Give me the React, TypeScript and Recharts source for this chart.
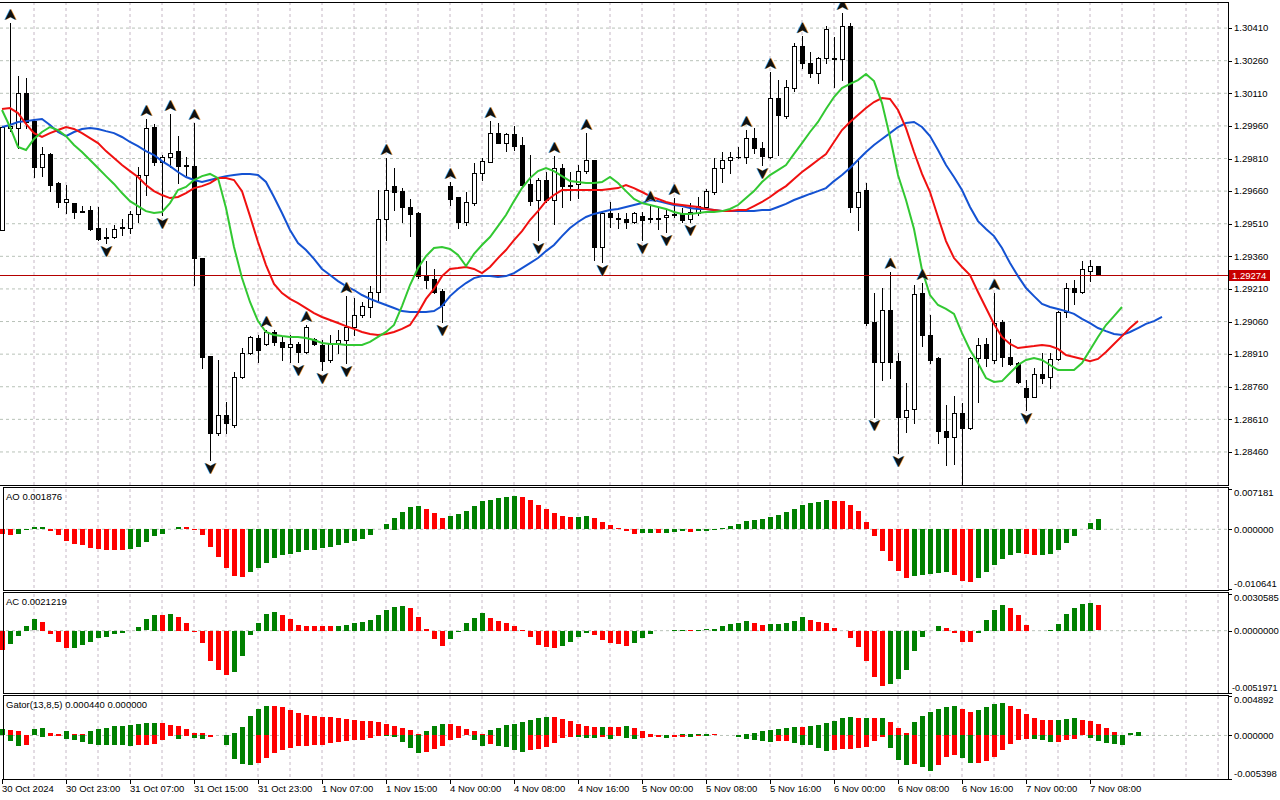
import React from 'react';
import { ComposedChart, Bar, Line, Scatter, XAxis, YAxis, CartesianGrid, ReferenceLine, Cell } from 'recharts';

const FONT = '"Liberation Sans", Arial, sans-serif';
const FS = 9.5;
const GREEN = '#008000';
const RED = '#ff0000';
const GRID_H = '#b8c2b8';
const GRID_V = '#c6b8c6';
const LAST_LINE = '#b40000';

// GBPUSD H1, 30 Oct 15:00 .. 7 Nov 09:00
const openP = [1.29481,1.29950,1.29950,1.30111,1.29982,1.29771,1.29831,1.29697,1.29610,1.29605,
  1.29568,1.29573,1.29490,1.29449,1.29449,1.29490,1.29490,1.29555,1.29734,1.29955,
  1.29794,1.29817,1.29844,1.29775,1.29775,1.29352,1.28901,1.28547,1.28630,1.28584,
  1.28805,1.28915,1.28984,1.28957,1.29012,1.28966,1.28943,1.28957,1.28920,1.28980,
  1.28952,1.28883,1.28961,1.28975,1.29035,1.29090,1.29127,1.29196,1.29532,1.29683,
  1.29660,1.29587,1.29559,1.29274,1.29256,1.29200,1.29683,1.29633,1.29518,1.29605,
  1.29743,1.29794,1.29927,1.29881,1.29923,1.29872,1.29693,1.29619,1.29711,1.29619,
  1.29766,1.29688,1.29693,1.29752,1.29803,1.29403,1.29559,1.29536,1.29532,1.29518,
  1.29545,1.29536,1.29536,1.29541,1.29555,1.29559,1.29532,1.29559,1.29587,1.29656,
  1.29766,1.29803,1.29817,1.29817,1.29904,1.29858,1.29817,1.30088,1.30005,1.30134,
  1.30327,1.30249,1.30203,1.30272,1.30272,1.30268,1.30419,1.29587,1.29665,1.29058,
  1.28874,1.29113,1.28878,1.28621,1.28658,1.29191,1.28998,1.28892,1.28556,1.28529,
  1.28639,1.28570,1.28892,1.28957,1.28883,1.29058,1.28897,1.28869,1.28754,1.28713,
  1.28819,1.28805,1.28888,1.29104,1.29214,1.29196,1.29292,1.29315];
const highP = [1.29955,1.30433,1.30189,1.30180,1.29987,1.29863,1.29835,1.29702,1.29688,1.29605,
  1.29591,1.29591,1.29587,1.29490,1.29504,1.29532,1.29568,1.29771,1.29992,1.29969,
  1.29826,1.30015,1.29913,1.29817,1.29973,1.29352,1.28901,1.28883,1.28690,1.28828,
  1.28938,1.28993,1.28998,1.29021,1.29021,1.28989,1.28998,1.28966,1.29044,1.28984,
  1.28975,1.28998,1.29021,1.29177,1.29168,1.29150,1.29223,1.29665,1.29812,1.29766,
  1.29674,1.29624,1.29564,1.29338,1.29302,1.29210,1.29702,1.29633,1.29656,1.29789,
  1.29812,1.29982,1.29973,1.29927,1.29959,1.29909,1.29826,1.29720,1.29748,1.29821,
  1.29785,1.29748,1.29780,1.29927,1.29803,1.29568,1.29610,1.29559,1.29559,1.29564,
  1.29564,1.29596,1.29582,1.29573,1.29628,1.29582,1.29605,1.29633,1.29670,1.29812,
  1.29840,1.29840,1.29863,1.29941,1.29950,1.29886,1.30208,1.30171,1.30171,1.30341,
  1.30373,1.30300,1.30277,1.30419,1.30369,1.30479,1.30433,1.29812,1.29697,1.29191,
  1.29214,1.29289,1.28915,1.28777,1.29228,1.29237,1.29090,1.28897,1.28676,1.28718,
  1.28685,1.28897,1.28984,1.28984,1.29191,1.29067,1.28980,1.28874,1.28791,1.28846,
  1.28915,1.28915,1.29108,1.29237,1.29251,1.29338,1.29343,1.29315];
const lowP = [1.29481,1.29936,1.29858,1.29950,1.29725,1.29729,1.29660,1.29587,1.29559,1.29536,
  1.29564,1.29481,1.29435,1.29421,1.29444,1.29458,1.29467,1.29518,1.29642,1.29780,
  1.29550,1.29771,1.29697,1.29734,1.29228,1.28846,1.28423,1.28538,1.28547,1.28575,
  1.28800,1.28911,1.28874,1.28952,1.28952,1.28883,1.28874,1.28874,1.28915,1.28952,
  1.28837,1.28874,1.28915,1.28869,1.28998,1.29081,1.29081,1.29150,1.29435,1.29573,
  1.29518,1.29453,1.29260,1.29214,1.29191,1.29058,1.29596,1.29490,1.29504,1.29596,
  1.29711,1.29794,1.29881,1.29844,1.29849,1.29679,1.29596,1.29435,1.29610,1.29509,
  1.29587,1.29619,1.29628,1.29743,1.29343,1.29334,1.29495,1.29490,1.29490,1.29513,
  1.29435,1.29518,1.29486,1.29472,1.29541,1.29518,1.29518,1.29550,1.29587,1.29647,
  1.29702,1.29743,1.29812,1.29789,1.29835,1.29780,1.29812,1.29826,1.29996,1.30120,
  1.30226,1.30185,1.30157,1.30249,1.30139,1.30171,1.29564,1.29481,1.29044,1.28621,
  1.28791,1.28800,1.28455,1.28552,1.28593,1.28947,1.28869,1.28501,1.28400,1.28405,
  1.28308,1.28566,1.28690,1.28855,1.28869,1.28855,1.28860,1.28777,1.28653,1.28713,
  1.28777,1.28754,1.28883,1.29081,1.29141,1.29191,1.29246,1.29274];
const closeP = [1.29955,1.29959,1.30111,1.29978,1.29771,1.29831,1.29688,1.29610,1.29624,1.29564,
  1.29564,1.29486,1.29440,1.29444,1.29486,1.29495,1.29555,1.29734,1.29950,1.29794,
  1.29817,1.29835,1.29775,1.29780,1.29352,1.28897,1.28547,1.28630,1.28593,1.28805,
  1.28915,1.28989,1.28929,1.29012,1.28966,1.28943,1.28957,1.28920,1.29035,1.28957,
  1.28878,1.28961,1.28975,1.29035,1.29090,1.29131,1.29196,1.29532,1.29665,1.29656,
  1.29587,1.29555,1.29269,1.29251,1.29196,1.29136,1.29624,1.29518,1.29610,1.29743,
  1.29798,1.29927,1.29881,1.29923,1.29867,1.29688,1.29614,1.29711,1.29619,1.29766,
  1.29683,1.29683,1.29752,1.29803,1.29403,1.29559,1.29541,1.29534,1.29518,1.29559,
  1.29527,1.29532,1.29534,1.29550,1.29552,1.29527,1.29564,1.29591,1.29660,1.29766,
  1.29803,1.29817,1.29819,1.29904,1.29858,1.29821,1.30088,1.30010,1.30139,1.30327,
  1.30249,1.30203,1.30272,1.30406,1.30268,1.30419,1.29587,1.29656,1.29053,1.28874,
  1.29113,1.28874,1.28621,1.28653,1.29187,1.28998,1.28883,1.28556,1.28529,1.28639,
  1.28570,1.28892,1.28952,1.28892,1.29053,1.28897,1.28865,1.28782,1.28713,1.28819,
  1.28800,1.28888,1.29104,1.29214,1.29196,1.29302,1.29315,1.29274];

// Alligator (13,8,5), already shifted forward
const jaw = [1.29955,1.29964,1.29978,1.29982,1.29987,1.29992,1.29964,1.29932,1.29913,1.29932,
  1.29946,1.29950,1.29946,1.29936,1.29927,1.29909,1.29886,1.29867,1.29844,1.29826,
  1.29798,1.29775,1.29748,1.29725,1.29711,1.29702,1.29711,1.29720,1.29729,1.29734,
  1.29739,1.29739,1.29734,1.29702,1.29633,1.29559,1.29481,1.29421,1.29389,1.29348,
  1.29302,1.29274,1.29246,1.29223,1.29205,1.29182,1.29164,1.29150,1.29136,1.29122,
  1.29108,1.29104,1.29104,1.29104,1.29108,1.29131,1.29177,1.29210,1.29237,1.29260,
  1.29269,1.29269,1.29265,1.29269,1.29283,1.29306,1.29329,1.29352,1.29384,1.29412,
  1.29453,1.29490,1.29518,1.29541,1.29555,1.29564,1.29573,1.29578,1.29587,1.29596,
  1.29605,1.29619,1.29614,1.29605,1.29596,1.29591,1.29582,1.29578,1.29578,1.29573,
  1.29568,1.29568,1.29568,1.29568,1.29568,1.29573,1.29573,1.29587,1.29601,1.29619,
  1.29633,1.29647,1.29660,1.29674,1.29706,1.29734,1.29766,1.29803,1.29840,1.29872,
  1.29900,1.29927,1.29955,1.29973,1.29978,1.29955,1.29913,1.29849,1.29780,1.29725,
  1.29665,1.29587,1.29522,1.29486,1.29453,1.29398,1.29329,1.29269,1.29214,1.29177,
  1.29141,1.29127,1.29118,1.29108,1.29095,1.29072,1.29053,1.29030,1.29016,1.29003,
  1.28998,1.29012,1.29030,1.29049,1.29062,1.29081];
const teeth = [1.30038,1.30042,1.30019,1.29969,1.29927,1.29909,1.29927,1.29941,1.29955,1.29946,
  1.29927,1.29904,1.29881,1.29844,1.29812,1.29780,1.29752,1.29725,1.29688,1.29660,
  1.29642,1.29628,1.29633,1.29651,1.29674,1.29683,1.29697,1.29720,1.29720,1.29711,
  1.29660,1.29545,1.29426,1.29320,1.29233,1.29191,1.29164,1.29145,1.29122,1.29099,
  1.29081,1.29067,1.29053,1.29039,1.29026,1.29012,1.29003,1.28998,1.29003,1.29012,
  1.29026,1.29044,1.29099,1.29164,1.29210,1.29269,1.29302,1.29306,1.29311,1.29302,
  1.29283,1.29311,1.29352,1.29389,1.29435,1.29476,1.29527,1.29568,1.29614,1.29642,
  1.29665,1.29665,1.29665,1.29665,1.29665,1.29665,1.29670,1.29674,1.29688,1.29674,
  1.29656,1.29637,1.29624,1.29610,1.29601,1.29596,1.29591,1.29587,1.29578,1.29573,
  1.29568,1.29568,1.29573,1.29573,1.29591,1.29610,1.29633,1.29660,1.29683,1.29716,
  1.29748,1.29775,1.29803,1.29831,1.29886,1.29941,1.29978,1.30010,1.30042,1.30070,
  1.30088,1.30084,1.30033,1.29950,1.29840,1.29739,1.29656,1.29541,1.29430,1.29352,
  1.29311,1.29274,1.29196,1.29122,1.29049,1.28989,1.28957,1.28938,1.28943,1.28947,
  1.28952,1.28947,1.28934,1.28906,1.28897,1.28888,1.28878,1.28888,1.28920,1.28957,
  1.28993,1.29030,1.29062];
const lips = [1.30033,1.29955,1.29863,1.29849,1.29900,1.29932,1.29955,1.29941,1.29913,1.29872,
  1.29840,1.29803,1.29766,1.29729,1.29693,1.29651,1.29614,1.29591,1.29568,1.29559,
  1.29564,1.29605,1.29665,1.29679,1.29711,1.29729,1.29739,1.29720,1.29582,1.29403,
  1.29260,1.29150,1.29062,1.29012,1.28998,1.28993,1.28989,1.28989,1.28984,1.28975,
  1.28961,1.28957,1.28957,1.28952,1.28952,1.28952,1.28966,1.28989,1.29012,1.29044,
  1.29131,1.29228,1.29306,1.29361,1.29398,1.29403,1.29394,1.29366,1.29315,1.29371,
  1.29412,1.29449,1.29499,1.29550,1.29614,1.29674,1.29720,1.29752,1.29766,1.29752,
  1.29729,1.29706,1.29702,1.29697,1.29697,1.29702,1.29725,1.29697,1.29660,1.29624,
  1.29605,1.29596,1.29587,1.29578,1.29564,1.29555,1.29555,1.29559,1.29564,1.29564,
  1.29568,1.29578,1.29596,1.29628,1.29660,1.29702,1.29734,1.29757,1.29780,1.29831,
  1.29881,1.29932,1.29978,1.30038,1.30093,1.30134,1.30153,1.30171,1.30199,1.30166,
  1.30065,1.29909,1.29734,1.29619,1.29486,1.29297,1.29182,1.29136,1.29118,1.29095,
  1.29007,1.28929,1.28869,1.28800,1.28782,1.28786,1.28823,1.28860,1.28883,1.28892,
  1.28883,1.28860,1.28837,1.28837,1.28837,1.28869,1.28929,1.28989,1.29044,1.29085,
  1.29127];

const fractalUpIdx = [1, 18, 21, 24, 33, 38, 43, 48, 56, 61, 69, 73, 81, 84, 93, 96, 100, 105, 111, 115, 124];
const fractalDownIdx = [13, 20, 26, 37, 40, 43, 55, 67, 75, 80, 83, 86, 95, 109, 112, 120, 128];

const ao = [-0.00090,-0.00113,-0.00090,-0.00023,0.00036,0.00041,-0.00041,-0.00113,-0.00211,-0.00265,
  -0.00293,-0.00337,-0.00360,-0.00373,-0.00374,-0.00376,-0.00355,-0.00319,-0.00229,-0.00131,
  -0.00085,-0.00005,0.00041,0.00036,-0.00009,-0.00103,-0.00319,-0.00499,-0.00697,-0.00833,
  -0.00859,-0.00761,-0.00697,-0.00599,-0.00517,-0.00463,-0.00437,-0.00401,-0.00383,-0.00373,
  -0.00337,-0.00319,-0.00293,-0.00252,-0.00221,-0.00175,-0.00113,-0.00005,0.00095,0.00207,
  0.00306,0.00396,0.00414,0.00360,0.00288,0.00198,0.00234,0.00270,0.00324,0.00414,
  0.00504,0.00522,0.00558,0.00576,0.00594,0.00576,0.00522,0.00432,0.00360,0.00288,
  0.00234,0.00216,0.00220,0.00234,0.00198,0.00126,0.00072,0.00018,-0.00041,-0.00085,
  -0.00067,-0.00065,-0.00067,-0.00063,-0.00061,-0.00041,-0.00049,-0.00041,-0.00031,-0.00023,
  0.00018,0.00054,0.00095,0.00144,0.00162,0.00180,0.00216,0.00252,0.00306,0.00360,
  0.00432,0.00468,0.00486,0.00522,0.00504,0.00502,0.00432,0.00324,0.00126,-0.00121,
  -0.00391,-0.00571,-0.00751,-0.00877,-0.00846,-0.00828,-0.00810,-0.00792,-0.00774,-0.00828,
  -0.00918,-0.00936,-0.00882,-0.00774,-0.00648,-0.00535,-0.00463,-0.00432,-0.00450,-0.00468,
  -0.00464,-0.00450,-0.00378,-0.00247,-0.00121,-0.00005,0.00108,0.001876];

const ac = [-0.00161,-0.00106,-0.00039,0.00042,0.00094,0.00075,-0.00023,-0.00092,-0.00139,-0.00138,
  -0.00114,-0.00089,-0.00056,-0.00048,-0.00023,-0.00014,0.00001,0.00033,0.00094,0.00133,
  0.00132,0.00142,0.00117,0.00067,-0.00006,-0.00098,-0.00248,-0.00323,-0.00364,-0.00339,
  -0.00206,-0.00031,0.00067,0.00142,0.00158,0.00133,0.00100,0.00050,0.00042,0.00041,
  0.00040,0.00039,0.00042,0.00050,0.00067,0.00075,0.00092,0.00133,0.00175,0.00200,
  0.00209,0.00192,0.00117,0.00017,-0.00067,-0.00125,-0.00067,-0.00006,0.00067,0.00108,
  0.00150,0.00108,0.00083,0.00067,0.00042,0.00008,-0.00050,-0.00117,-0.00133,-0.00142,
  -0.00125,-0.00092,-0.00050,-0.00017,-0.00033,-0.00075,-0.00100,-0.00108,-0.00125,-0.00100,
  -0.00058,-0.00023,-0.00004,-0.00003,0.00006,0.00008,0.00007,0.00008,0.00010,0.00017,
  0.00042,0.00058,0.00067,0.00083,0.00067,0.00050,0.00058,0.00059,0.00067,0.00083,
  0.00117,0.00092,0.00075,0.00067,0.00025,0.00003,-0.00058,-0.00133,-0.00250,-0.00384,
  -0.00459,-0.00442,-0.00400,-0.00325,-0.00167,-0.00050,0.00003,0.00042,0.00025,-0.00017,
  -0.00092,-0.00093,-0.00017,0.00092,0.00175,0.00217,0.00192,0.00133,0.00050,0.00003,
  -0.00003,0.00008,0.00058,0.00142,0.00192,0.00225,0.00234,0.0021219];

const gatorUp = [0.00074,0.00072,0.00058,0.00004,0.00077,0.00089,0.00033,0.00016,0.00053,0.00016,
  0.00012,0.00053,0.00077,0.00089,0.00114,0.00115,0.00126,0.00143,0.00151,0.00152,
  0.00151,0.00135,0.00114,0.00082,0.00033,0.00032,0.00009,0.00004,0.00002,0.00025,
  0.00107,0.00236,0.00322,0.00371,0.00370,0.00347,0.00310,0.00278,0.00254,0.00236,
  0.00224,0.00223,0.00212,0.00200,0.00187,0.00180,0.00175,0.00163,0.00138,0.00114,
  0.00089,0.00065,0.00016,0.00053,0.00114,0.00138,0.00137,0.00114,0.00077,0.00053,
  0.00016,0.00065,0.00089,0.00126,0.00138,0.00163,0.00187,0.00212,0.00224,0.00223,
  0.00200,0.00175,0.00138,0.00114,0.00102,0.00103,0.00102,0.00100,0.00114,0.00089,
  0.00053,0.00016,0.00004,0.00005,0.00004,0.00016,0.00017,0.00018,0.00021,0.00016,
  0.00004,0.00001,0.00006,0.00016,0.00028,0.00053,0.00065,0.00082,0.00089,0.00102,
  0.00100,0.00114,0.00126,0.00151,0.00175,0.00212,0.00224,0.00212,0.00213,0.00212,
  0.00213,0.00163,0.00089,0.00028,0.00163,0.00236,0.00285,0.00322,0.00359,0.00371,
  0.00322,0.00285,0.00310,0.00359,0.00396,0.00408,0.00371,0.00322,0.00261,0.00212,
  0.00187,0.00186,0.00187,0.00200,0.00212,0.00187,0.00175,0.00138,0.00089,0.00040,
  0.00000,0.00028,0.00044];
const gatorDown = [0,-0.00077,-0.00138,-0.00126,-0.00004,-0.00028,-0.00016,-0.00009,-0.00045,-0.00065,
  -0.00089,-0.00107,-0.00119,-0.00120,-0.00126,-0.00127,-0.00138,-0.00119,-0.00118,-0.00107,
  -0.00058,-0.00009,-0.00045,-0.00018,-0.00033,-0.00045,-0.00028,-0.00004,-0.00126,-0.00303,
  -0.00364,-0.00371,-0.00352,-0.00285,-0.00229,-0.00192,-0.00163,-0.00138,-0.00131,-0.00119,
  -0.00118,-0.00098,-0.00089,-0.00077,-0.00065,-0.00058,-0.00033,-0.00009,-0.00016,-0.00021,
  -0.00082,-0.00163,-0.00217,-0.00205,-0.00175,-0.00131,-0.00065,-0.00033,-0.00002,-0.00065,
  -0.00131,-0.00114,-0.00131,-0.00151,-0.00192,-0.00205,-0.00192,-0.00175,-0.00151,-0.00102,
  -0.00040,-0.00028,-0.00029,-0.00031,-0.00032,-0.00028,-0.00053,-0.00016,-0.00040,-0.00053,
  -0.00040,-0.00028,-0.00027,-0.00040,-0.00028,-0.00027,-0.00028,-0.00016,-0.00004,-0.00002,
  -0.00001,-0.00001,-0.00028,-0.00053,-0.00065,-0.00077,-0.00089,-0.00077,-0.00076,-0.00102,
  -0.00126,-0.00127,-0.00163,-0.00200,-0.00187,-0.00175,-0.00174,-0.00163,-0.00151,-0.00077,
  -0.00028,-0.00163,-0.00310,-0.00371,-0.00359,-0.00396,-0.00445,-0.00371,-0.00273,-0.00249,
  -0.00285,-0.00347,-0.00345,-0.00322,-0.00273,-0.00187,-0.00114,-0.00065,-0.00053,-0.00054,
  -0.00065,-0.00089,-0.00088,-0.00065,-0.00053,-0.00004,-0.00040,-0.00077,-0.00102,-0.00114,
  -0.00126,0,0];

const priceTicks = [1.2846, 1.2861, 1.2876, 1.2891, 1.2906, 1.2921, 1.2936, 1.2951, 1.2966, 1.2981, 1.2996, 1.3011, 1.3026, 1.3041];
const priceRange = [1.28308, 1.3053];
const aoRange = [-0.010641, 0.007181];
const acRange = [-0.0051971, 0.0030585];
const gatorRange = [-0.005398, 0.004892];

const timeLabels = ['30 Oct 2024', '30 Oct 23:00', '31 Oct 07:00', '31 Oct 15:00', '31 Oct 23:00', '1 Nov 07:00',
  '1 Nov 15:00', '4 Nov 00:00', '4 Nov 08:00', '4 Nov 16:00', '5 Nov 00:00', '5 Nov 08:00', '5 Nov 16:00',
  '6 Nov 00:00', '6 Nov 08:00', '6 Nov 16:00', '7 Nov 00:00', '7 Nov 08:00'];
const labelIdx = [0, 8, 16, 24, 32, 40, 48, 56, 64, 72, 80, 88, 96, 104, 112, 120, 128, 136];

const X_DOMAIN = [-0.25, 153.25];
const gridX = Array.from({ length: 38 }, (_, k) => 4 * (k + 1));

const rows = jaw.map((_, i) => ({
  i,
  hl: i < closeP.length ? [lowP[i], highP[i]] : null,
  o: openP[i], h: highP[i], l: lowP[i], c: closeP[i],
  jaw: jaw[i], teeth: teeth[i] ?? null, lips: lips[i] ?? null,
  ao: ao[i] ?? null, ac: ac[i] ?? null, gu: gatorUp[i] ?? null, gl: gatorDown[i] ?? null,
}));

const fracUp = fractalUpIdx.map((i) => ({ i, v: highP[i] }));
const fracDown = fractalDownIdx.map((i) => ({ i, v: lowP[i] }));

// green when the bar grows compared with the previous one
const trendColors = (vals: number[], first: string, useAbs = false) =>
  vals.map((v, i) => {
    if (i === 0) return first;
    const a = useAbs ? Math.abs(v) : v;
    const b = useAbs ? Math.abs(vals[i - 1]) : vals[i - 1];
    return a > b ? GREEN : RED;
  });
const aoColors = trendColors(ao, RED);
const acColors = trendColors(ac, RED);
const guColors = trendColors(gatorUp, GREEN, true);
const glColors = trendColors(gatorDown, GREEN, true);

function Candle(props: any) {
  const { x, y, width, height, payload } = props;
  if (!payload || payload.hl == null || !Number.isFinite(y) || !Number.isFinite(height)) return null;
  const top = Math.min(y, y + height);
  const span = Math.abs(height);
  const { o, h, l, c } = payload;
  const k = h > l ? span / (h - l) : 0;
  const yOf = (v: number) => top + (h - v) * k;
  const cx = Math.round(x + width / 2) + 0.5;
  const yo = yOf(o);
  const yc = yOf(c);
  const bt = Math.round(Math.min(yo, yc)) + 0.5;
  const bb = Math.round(Math.max(yo, yc)) + 0.5;
  const bull = c >= o;
  return (
    <g>
      <line x1={cx} x2={cx} y1={Math.round(top)} y2={Math.round(top + span) + 1} stroke="#000" strokeWidth={1} />
      {bb - bt < 1 ? (
        <line x1={cx - 2.5} x2={cx + 2.5} y1={bt} y2={bt} stroke="#000" strokeWidth={1} />
      ) : (
        <rect x={cx - 2} y={bt} width={4} height={bb - bt} fill={bull ? '#fff' : '#000'} stroke="#000" strokeWidth={1} />
      )}
    </g>
  );
}

function SnapBar(props: any) {
  const { x, y, width, height, fill } = props;
  if (!Number.isFinite(x) || !Number.isFinite(y) || !Number.isFinite(height)) return null;
  const cx = Math.round(x + width / 2);
  const top = Math.round(Math.min(y, y + height));
  const h = Math.round(Math.abs(height));
  if (h <= 0) return null;
  return <rect x={cx - 2} y={top} width={5} height={h} fill={fill} />;
}

// Bill Williams fractal arrow, drawn a few pixels beyond the high/low
function Fractal(props: any) {
  const { cx, cy, dir } = props;
  if (!Number.isFinite(cx) || !Number.isFinite(cy)) return null;
  const x = Math.round(cx) + 0.5;
  const s = dir === 'up' ? -1 : 1;
  const base = cy + s * 3;
  const pts = (dx: number) =>
    [[x + dx, base + s * 11], [x + dx + 5.5, base], [x + dx, base + s * 3], [x + dx - 5.5, base]]
      .map((p) => p.join(','))
      .join(' ');
  return (
    <g>
      <polygon points={pts(-0.8)} fill="#3b9be0" />
      <polygon points={pts(0.8)} fill="#e8963a" />
      <polygon points={pts(0)} fill="#111" />
    </g>
  );
}

function ValueTick(props: any) {
  const { x, y, payload, digits, top, bottom } = props;
  const v = payload.value;
  const txt = Number(v).toFixed(digits);
  let dy = 0;
  if (top !== undefined && v === top) dy = 4;
  if (bottom !== undefined && v === bottom) dy = -5;
  const long = txt.length > 9;
  return (
    <g>
      <line x1={x} x2={x + 4} y1={Math.round(y) + 0.5} y2={Math.round(y) + 0.5} stroke="#000" />
      <text x={x + (long ? 4 : 6)} y={y + dy} dy="0.35em" fontSize={long ? 9 : FS} fontFamily={FONT} fill="#000">
        {txt}
      </text>
    </g>
  );
}

function TimeTick(props: any) {
  const { x, y, payload } = props;
  const k = labelIdx.indexOf(payload.value);
  const lx = Math.round(x) + 0.5;
  return (
    <g>
      <line x1={lx} x2={lx} y1={y} y2={y + 5} stroke="#000" />
      <text x={x} y={y + 13} fontSize={FS} fontFamily={FONT} fill="#000">
        {timeLabels[k]}
      </text>
    </g>
  );
}

function PriceTag(props: any) {
  const vb = props.viewBox || {};
  const x = (vb.x ?? 0) + (vb.width ?? 0);
  const y = Math.round(vb.y ?? 0);
  return (
    <g>
      <rect x={x + 1} y={y - 5} width={41} height={11} fill="#c80000" />
      <text x={x + 4} y={y + 0.5} dy="0.35em" fontSize={FS} fontFamily={FONT} fill="#fff">
        {props.text}
      </text>
    </g>
  );
}

function CrispHLine(props: any) {
  const { x1, x2, y1 } = props;
  if (!Number.isFinite(y1)) return null;
  const y = Math.round(y1) + 0.5;
  return <line x1={x1} x2={x2} y1={y} y2={y} stroke={LAST_LINE} strokeWidth={1} />;
}

const frame = (top: number, height: number, left = 3): React.CSSProperties => ({
  position: 'absolute', left, top, width: 1229 - left, height, border: '1px solid #000',
  boxSizing: 'border-box', pointerEvents: 'none',
});

const labelStyle = (top: number): React.CSSProperties => ({
  position: 'absolute', left: 6, top, fontSize: FS, fontFamily: FONT, color: '#000', lineHeight: '11px',
  whiteSpace: 'nowrap',
});

function SubPanel({ top, height, range, digits, dataKey, colors }: any) {
  return (
    <div style={{ position: 'absolute', left: 0, top }}>
      <ComposedChart width={1280} height={height} data={rows} margin={{ top: 2, right: 0, bottom: 1, left: 0 }}>
        <CartesianGrid horizontal={false} verticalValues={gridX} stroke={GRID_V} strokeDasharray="3 3" />
        <CartesianGrid vertical={false} horizontalValues={[0]} stroke={GRID_H} strokeDasharray="3 3" />
        <XAxis dataKey="i" type="number" domain={X_DOMAIN} allowDataOverflow ticks={gridX} hide />
        <YAxis orientation="right" width={52} domain={range} allowDataOverflow ticks={[range[1], 0, range[0]]}
          interval={0} axisLine={false} tickLine={false} tickSize={0} tickMargin={0}
          tick={<ValueTick digits={digits} top={range[1]} bottom={range[0]} />} />
        <Bar dataKey={dataKey} barSize={5} shape={<SnapBar />} isAnimationActive={false}>
          {rows.map((r, i) => <Cell key={i} fill={colors[i] ?? GREEN} />)}
        </Bar>
      </ComposedChart>
    </div>
  );
}

export default function App() {
  const lastClose = closeP[closeP.length - 1];
  return (
    <div style={{ position: 'fixed', left: 0, top: 0, width: 1280, height: 800, background: '#fff', overflow: 'hidden' }}>
      {/* price window */}
      <div style={{ position: 'absolute', left: 0, top: 0 }}>
        <ComposedChart width={1280} height={487} data={rows} margin={{ top: 2, right: 0, bottom: 2, left: 0 }}>
          <CartesianGrid horizontal={false} verticalValues={gridX} stroke={GRID_V} strokeDasharray="3 3" />
          <CartesianGrid vertical={false} horizontalValues={priceTicks} stroke={GRID_H} strokeDasharray="3 3" />
          <XAxis dataKey="i" type="number" domain={X_DOMAIN} allowDataOverflow ticks={gridX} hide />
          <YAxis orientation="right" width={52} domain={priceRange} allowDataOverflow ticks={priceTicks} interval={0}
            axisLine={false} tickLine={false} tickSize={0} tickMargin={0} tick={<ValueTick digits={5} />} />
          <Bar dataKey="hl" barSize={5} shape={<Candle />} isAnimationActive={false} />
          <ReferenceLine y={lastClose} stroke={LAST_LINE} shape={(p: any) => <CrispHLine {...p} />}
            label={<PriceTag text={lastClose.toFixed(5)} />} />
          <Line dataKey="jaw" type="linear" stroke="#1452d2" strokeWidth={2} dot={false} activeDot={false} isAnimationActive={false} />
          <Line dataKey="teeth" type="linear" stroke="#f01010" strokeWidth={2} dot={false} activeDot={false} isAnimationActive={false} />
          <Line dataKey="lips" type="linear" stroke="#32c832" strokeWidth={2} dot={false} activeDot={false} isAnimationActive={false} />
          <Scatter data={fracUp} dataKey="v" shape={<Fractal dir="up" />} isAnimationActive={false} />
          <Scatter data={fracDown} dataKey="v" shape={<Fractal dir="down" />} isAnimationActive={false} />
        </ComposedChart>
      </div>
      <div style={{ ...frame(2, 484, 0), borderLeft: 'none' }} />

      <SubPanel top={487} height={103} range={aoRange} digits={6} dataKey="ao" colors={aoColors} />
      <div style={frame(487, 104)} />
      <div style={labelStyle(491)}>AO {ao[ao.length - 1].toFixed(6)}</div>

      <SubPanel top={592} height={102} range={acRange} digits={7} dataKey="ac" colors={acColors} />
      <div style={frame(592, 102)} />
      <div style={labelStyle(596)}>AC {ac[ac.length - 1].toFixed(7)}</div>

      {/* gator window with time axis */}
      <div style={{ position: 'absolute', left: 0, top: 695 }}>
        <ComposedChart width={1280} height={105} data={rows} stackOffset="sign" margin={{ top: 1, right: 0, bottom: 0, left: 0 }}>
          <CartesianGrid horizontal={false} verticalValues={gridX} stroke={GRID_V} strokeDasharray="3 3" />
          <CartesianGrid vertical={false} horizontalValues={[0]} stroke={GRID_H} strokeDasharray="3 3" />
          <XAxis dataKey="i" type="number" domain={X_DOMAIN} allowDataOverflow ticks={labelIdx} interval={0} height={21}
            axisLine={false} tickLine={false} tickSize={0} tickMargin={0} tick={<TimeTick />} />
          <YAxis orientation="right" width={52} domain={gatorRange} allowDataOverflow
            ticks={[gatorRange[1], 0, gatorRange[0]]} interval={0} axisLine={false} tickLine={false} tickSize={0} tickMargin={0}
            tick={<ValueTick digits={6} top={gatorRange[1]} bottom={gatorRange[0]} />} />
          <Bar dataKey="gu" stackId="g" barSize={5} shape={<SnapBar />} isAnimationActive={false}>
            {rows.map((r, i) => <Cell key={i} fill={guColors[i] ?? GREEN} />)}
          </Bar>
          <Bar dataKey="gl" stackId="g" barSize={5} shape={<SnapBar />} isAnimationActive={false}>
            {rows.map((r, i) => <Cell key={i} fill={glColors[i] ?? GREEN} />)}
          </Bar>
        </ComposedChart>
      </div>
      <div style={frame(695, 85)} />
      <div style={labelStyle(699)}>
        Gator(13,8,5) {gatorUp[gatorUp.length - 1].toFixed(6)} {Math.abs(gatorDown[gatorDown.length - 1]).toFixed(6)}
      </div>
    </div>
  );
}
